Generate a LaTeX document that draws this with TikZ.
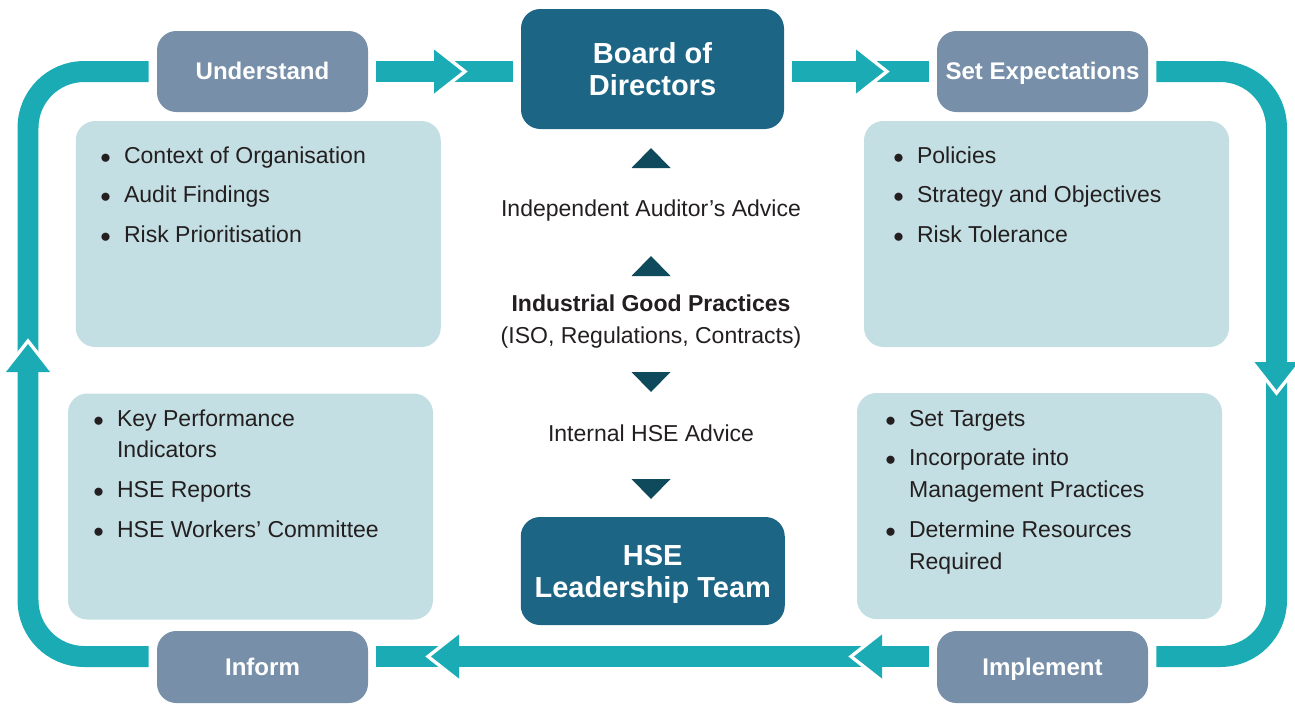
\documentclass[tikz,border=0pt]{standalone}
\usepackage{fontspec}
\setmainfont{Liberation Sans}

\definecolor{loopteal}{HTML}{1AABB5}
\definecolor{boarddark}{HTML}{1D6585}
\definecolor{labelgrey}{HTML}{778FA8}
\definecolor{lightbox}{HTML}{C4DFE3}
\definecolor{tridark}{HTML}{0E4A5B}
\definecolor{textdark}{HTML}{231F20}

\newcommand{\bodysize}{\fontsize{13.1pt}{18.2pt}\selectfont}
\newcommand{\labelsize}{\fontsize{13.7pt}{16pt}\selectfont\bfseries}
\newcommand{\boardsize}{\fontsize{16.5pt}{18.2pt}\selectfont\bfseries}
\newcommand{\itemdot}{$\bullet$}

% arrow head on the loop: x, y, angle
\newcommand{\loophead}[3]{%
	\begin{scope}[shift={(#1,#2)},rotate=#3]
		\draw[white,line width=4pt] (-28,-22) -- (0,0) -- (-28,22);
		\fill[loopteal] (-28,-22) -- (0,0) -- (-28,22) -- cycle;
	\end{scope}}

\tikzset{
	loopband/.style={draw=loopteal,line width=11.95pt,rounded corners=32pt,shorten <=4.5pt,shorten >=4.5pt},
	stagebox/.style={fill=labelgrey,rounded corners=11pt,text=white,font=\labelsize,minimum width=211*0.02cm,inner sep=0,text height=0.95em,text depth=0pt},
	bossbox/.style={fill=boarddark,rounded corners=11pt,text=white,font=\boardsize,align=center,inner sep=0},
	listbox/.style={fill=lightbox,rounded corners=11pt,minimum width=365*0.02cm,minimum height=226*0.02cm,inner sep=0},
	itemtext/.style={anchor=base west,inner sep=0,font=\bodysize,text=textdark},
	midtext/.style={inner sep=0,font=\bodysize,text=textdark,align=center}
}

\begin{document}
\begin{tikzpicture}[x=0.02cm,y=-0.02cm]
			\useasboundingbox (0,0) rectangle (1295,704);
			
			\begin{scope}[every node/.style={stagebox}]
				\node[minimum height=81*0.02cm] (understand) at (262.5,71.5) {Understand};
				\node[minimum height=81*0.02cm] (setexp) at (1042.5,71.5) {Set Expectations};
				\node[minimum height=72*0.02cm] (inform) at (262.5,667) {Inform};
				\node[minimum height=72*0.02cm] (implement) at (1042.5,667) {Implement};
			\end{scope}
			
			\node[bossbox,minimum width=263*0.02cm,minimum height=120*0.02cm] (board) at (652.5,69) {Board of\\Directors};
			\node[bossbox,minimum width=264*0.02cm,minimum height=108*0.02cm,text depth=0pt] (hse) at (652.75,571) {HSE\\Leadership Team};
			
			\node[listbox] (tlbox) at (258.25,234) {};
			\node[listbox] (trbox) at (1046.5,234) {};
			\node[listbox] (blbox) at (250.5,506.5) {};
			\node[listbox] (brbox) at (1039.5,506) {};
			
			\node[itemtext] (tltext) at (100,163) {\begin{tabular}[t]{@{}l@{\hspace{7.5pt}}l@{}}
				\itemdot & Context of Organisation\\[4.3pt]
				\itemdot & Audit Findings\\[4.3pt]
				\itemdot & Risk Prioritisation
			\end{tabular}};
			\node[itemtext] (trtext) at (893,163) {\begin{tabular}[t]{@{}l@{\hspace{7.5pt}}l@{}}
				\itemdot & Policies\\[4.3pt]
				\itemdot & Strategy and Objectives\\[4.3pt]
				\itemdot & Risk Tolerance
			\end{tabular}};
			\node[itemtext] (bltext) at (93,426) {\begin{tabular}[t]{@{}l@{\hspace{7.5pt}}l@{}}
				\itemdot & Key Performance\\
				 & Indicators\\[4.3pt]
				\itemdot & HSE Reports\\[4.3pt]
				\itemdot & HSE Workers’ Committee
			\end{tabular}};
			\node[itemtext] (brtext) at (885,426) {\begin{tabular}[t]{@{}l@{\hspace{7.5pt}}l@{}}
				\itemdot & Set Targets\\[4.3pt]
				\itemdot & Incorporate into\\
				 & Management Practices\\[4.3pt]
				\itemdot & Determine Resources\\
				 & Required
			\end{tabular}};
			
			\node[midtext] (auditor) at (651,211) {Independent Auditor’s Advice};
			\node[midtext] (practices) at (651,322) {\textbf{Industrial Good Practices}\\(ISO, Regulations, Contracts)};
			\node[midtext] (internal) at (651,433) {Internal HSE Advice};
			
			\foreach \y/\r in {158/0,266/0,382/180,489/180}
				\fill[tridark,shift={(651,\y)},rotate=\r] (-19.5,10) -- (19.5,10) -- (0,-10) -- cycle;
			
			% the loop
			\coordinate (leftrail) at (28,360);
			\coordinate (rightrail) at (1276.5,360);
			\coordinate (botrail) at (0,656.5);
			\draw[loopband] (understand.east) -- (understand.east -| board.west);
			\draw[loopband] (board.east |- setexp.west) -- (setexp.west);
			\draw[loopband] (setexp.east) -| (rightrail) |- (implement.east |- botrail);
			\draw[loopband] (implement.west |- botrail) -- (inform.east |- botrail);
			\draw[loopband] (inform.west |- botrail) -| (leftrail) |- (understand.west);
			
			\loophead{462}{71.5}{0}
			\loophead{884}{71.5}{0}
			\loophead{1276.5}{390}{-90}
			\loophead{854}{656.5}{180}
			\loophead{431}{656.5}{180}
			\loophead{28}{344}{90}
		\end{tikzpicture}
\end{document}
